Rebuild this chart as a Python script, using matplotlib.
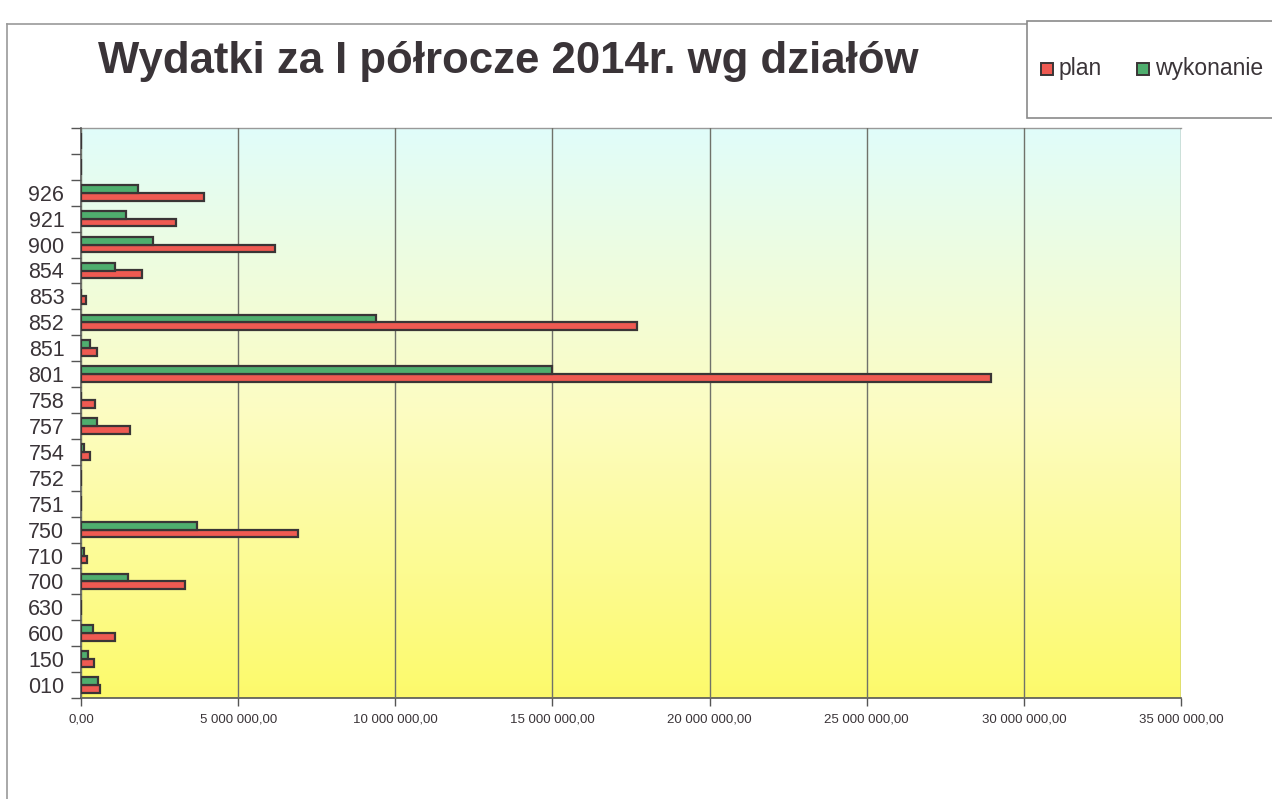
import numpy as np
import matplotlib
matplotlib.use("Agg")
import matplotlib.pyplot as plt
from matplotlib.patches import Rectangle
from matplotlib.lines import Line2D
from matplotlib.ticker import FuncFormatter, FixedLocator

# ---- data ----
categories = ["010", "150", "600", "630", "700", "710", "750", "751", "752", "754",
              "757", "758", "801", "851", "852", "853", "854", "900", "921", "926", "", ""]
plan = [0.60e6, 0.40e6, 1.08e6, 0.0, 3.30e6, 0.20e6, 6.90e6, 0.0, 0.0, 0.30e6,
        1.55e6, 0.45e6, 28.95e6, 0.50e6, 17.70e6, 0.15e6, 1.95e6, 6.18e6, 3.03e6, 3.92e6, 0.0, 0.0]
wykonanie = [0.53e6, 0.22e6, 0.38e6, 0.0, 1.50e6, 0.10e6, 3.70e6, 0.0, 0.0, 0.08e6,
             0.50e6, 0.0, 15.00e6, 0.28e6, 9.40e6, 0.0, 1.08e6, 2.30e6, 1.43e6, 1.82e6, 0.0, 0.0]
series_names = ["plan", "wykonanie"]
title = "Wydatki za I półrocze 2014r. wg działów"

RED = "#ef5a52"
GREEN = "#4fae6e"
EDGE = "#3a3536"
TXT = "#3a3438"

W, H = 1272, 799
fig = plt.figure(figsize=(W / 100, H / 100), dpi=100)
fig.patch.set_facecolor("white")

ax_l, ax_r, ax_t, ax_b = 81, 1181, 128, 698
ax = fig.add_axes([ax_l / W, 1 - ax_b / H, (ax_r - ax_l) / W, (ax_b - ax_t) / H])

# gradient background
grad = np.linspace(0, 1, 256)
c_top = np.array([0.88, 0.99, 0.98])
c_mid = np.array([0.99, 0.99, 0.76])
c_bot = np.array([0.99, 0.98, 0.42])
cols = np.zeros((256, 1, 3))
for i, g in enumerate(grad):
    if g < 0.5:
        t = g / 0.5
        cols[i, 0] = c_top * (1 - t) + c_mid * t
    else:
        t = (g - 0.5) / 0.5
        cols[i, 0] = c_mid * (1 - t) + c_bot * t
ax.imshow(cols, aspect="auto", extent=(0, 1, 0, 1), transform=ax.transAxes,
          zorder=0, interpolation="bilinear")

y = np.arange(len(categories))
bh = 0.30
ax.barh(y - 0.15, plan, height=bh, color=RED, edgecolor=EDGE, linewidth=1.6, zorder=3, label=series_names[0])
ax.barh(y + 0.15, wykonanie, height=bh, color=GREEN, edgecolor=EDGE, linewidth=1.6, zorder=3, label=series_names[1])

ax.set_xlim(0, 35e6)
ax.set_ylim(-0.5, len(categories) - 0.5)
ax.set_xticks(np.arange(0, 35e6 + 1, 5e6))


def fmt(v, pos):
    return f"{v:,.2f}".replace(",", " ").replace(".", ",")


ax.xaxis.set_major_formatter(FuncFormatter(fmt))
ax.grid(axis="x", color="#70726a", linewidth=1.0, zorder=1)
ax.set_axisbelow(False)

ax.set_yticks(y)
ax.set_yticklabels(categories)
ax.yaxis.set_minor_locator(FixedLocator(np.arange(-0.5, len(categories), 1.0)))
ax.tick_params(axis="y", which="major", length=0, pad=12, labelsize=15.5, labelcolor=TXT)
ax.tick_params(axis="y", which="minor", length=7, width=1, color="#555")
ax.tick_params(axis="x", which="major", length=6, width=1, color="#555", pad=5,
               labelsize=9.5, labelcolor=TXT)
for lab in ax.get_xticklabels():
    lab.set_family(["Liberation Sans Narrow", "Liberation Sans", "DejaVu Sans"])
for lab in ax.get_yticklabels():
    lab.set_family(["Liberation Sans", "DejaVu Sans"])

for s in ["left", "bottom"]:
    ax.spines[s].set_color("#555")
    ax.spines[s].set_linewidth(1.2)
ax.spines["top"].set_color("#999")
ax.spines["top"].set_linewidth(1.0)
ax.spines["right"].set_visible(False)

# outer chart border
fig.add_artist(Line2D([7 / W, 7 / W], [1 - 24 / H, 0], transform=fig.transFigure, color="#9a9a9a", lw=1.2))
fig.add_artist(Line2D([7 / W, 1027 / W], [1 - 24 / H, 1 - 24 / H], transform=fig.transFigure, color="#9a9a9a", lw=1.2))

# title
fig.text(508 / W, 1 - 61 / H, title, ha="center", va="center", fontsize=31.5, fontweight="bold",
         color=TXT, family=["Liberation Sans", "DejaVu Sans"])

# legend box
fig.add_artist(Rectangle((1027 / W, 1 - 118 / H), (W + 10 - 1027) / W, (118 - 21) / H,
                         transform=fig.transFigure, facecolor="white", edgecolor="#8a8a8a", lw=1.2, zorder=5))
leg_items = [(1041, "plan", RED), (1137, "wykonanie", GREEN)]
for x0, name, c in leg_items:
    fig.add_artist(Rectangle((x0 / W, 1 - 75 / H), 12 / W, 12 / H, transform=fig.transFigure,
                             facecolor=c, edgecolor=EDGE, lw=1.4, zorder=6))
    fig.text((x0 + 18) / W, 1 - 68 / H, name, ha="left", va="center", fontsize=16.5, color=TXT,
             family=["Liberation Sans", "DejaVu Sans"], zorder=7)

fig.savefig("out.png", dpi=100)
